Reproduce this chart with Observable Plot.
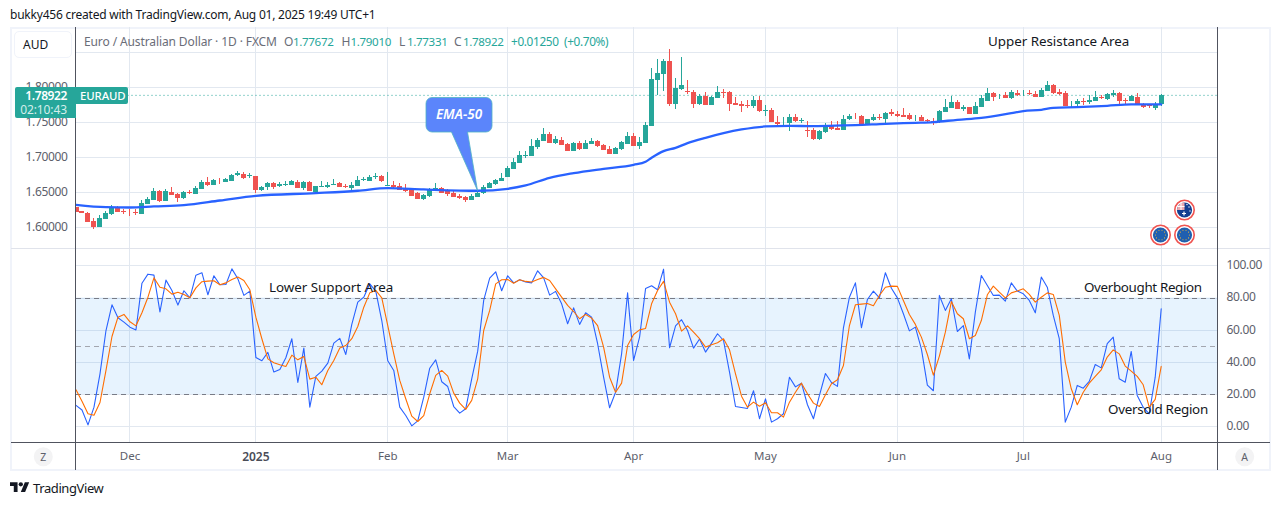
<!DOCTYPE html>
<html><head><meta charset="utf-8">
<script src="https://cdn.jsdelivr.net/npm/d3@7"></script>
<script src="https://cdn.jsdelivr.net/npm/@observablehq/plot@0.6"></script>
<style>
html,body{margin:0;padding:0;background:#fff}
#root{position:relative;width:1281px;height:505px;overflow:hidden;font-family:"Noto Sans",sans-serif;color:#131722}
#root svg{position:absolute;overflow:visible}
#root svg [aria-label="y-axis tick label"]{letter-spacing:-.35px}
.t{position:absolute;white-space:pre;line-height:1}
.box{position:absolute;box-sizing:border-box}
</style></head><body><div id="root"></div>
<script>
const opens=[1.6286,1.6238,1.621,1.609,1.601,1.6124,1.619,1.628,1.6238,1.6224,
1.622,1.6195,1.6333,1.639,1.6519,1.6376,1.651,1.6476,1.6419,1.651,
1.6476,1.6548,1.6648,1.661,1.6667,1.6652,1.6667,1.6743,1.6767,1.6733,
1.6733,1.6533,1.6571,1.6638,1.6595,1.66,1.661,1.6648,1.6557,1.6652,
1.651,1.6581,1.6581,1.661,1.6629,1.659,1.6557,1.659,1.6671,1.6667,
1.6719,1.6729,1.6595,1.6605,1.659,1.6557,1.6533,1.6495,1.6405,1.6448,
1.6524,1.6557,1.6514,1.649,1.6452,1.6429,1.6395,1.6438,1.6486,1.6567,
1.6619,1.6667,1.6719,1.6833,1.6924,1.7019,1.7024,1.7148,1.7233,1.7338,
1.7205,1.7252,1.719,1.7095,1.7205,1.7124,1.7195,1.7233,1.7176,1.7119,
1.7052,1.7119,1.719,1.73,1.7162,1.721,1.7452,1.8105,1.8195,1.8376,
1.7767,1.7971,1.7948,1.7933,1.7762,1.7881,1.7748,1.7848,1.7933,1.7933,
1.7776,1.7757,1.7743,1.7733,1.7819,1.7667,1.7676,1.7505,1.75,1.749,
1.7571,1.7519,1.7395,1.7386,1.7262,1.7362,1.7462,1.7419,1.739,1.7543,
1.7595,1.759,1.7462,1.7529,1.7571,1.7548,1.7643,1.7624,1.76,1.76,
1.7557,1.7571,1.7533,1.7524,1.7505,1.7648,1.7705,1.779,1.769,1.7714,
1.7619,1.7719,1.7805,1.7919,1.7886,1.789,1.7843,1.7919,1.7914,1.7924,
1.79,1.7862,1.7948,1.8033,1.7938,1.7914,1.7743,1.7757,1.7805,1.7786,
1.7805,1.7867,1.7829,1.7886,1.7924,1.7819,1.7805,1.7857,1.7767,1.7743,1.771,1.77672];
const closes=[1.6224,1.62,1.608,1.601,1.6129,1.62,1.6286,1.622,1.6224,1.6214,
1.621,1.6343,1.64,1.6524,1.6371,1.6514,1.6462,1.6414,1.651,1.6495,
1.6562,1.6648,1.66,1.6676,1.6657,1.6686,1.6748,1.6771,1.6705,1.6743,
1.6533,1.6581,1.6633,1.6571,1.6614,1.6624,1.6662,1.6567,1.6643,1.6519,
1.659,1.6595,1.6605,1.6619,1.6581,1.6571,1.661,1.6676,1.6686,1.6719,
1.6729,1.6662,1.661,1.6571,1.6538,1.6519,1.6448,1.6405,1.6462,1.6533,
1.6562,1.6495,1.6476,1.6438,1.6424,1.639,1.6448,1.649,1.6571,1.6629,
1.6676,1.6705,1.6848,1.6933,1.7029,1.7033,1.7157,1.7252,1.7333,1.7205,
1.7262,1.7181,1.7095,1.7205,1.7119,1.7205,1.7233,1.7167,1.711,1.7048,
1.7133,1.7219,1.73,1.7167,1.7219,1.7457,1.8114,1.8205,1.8376,1.7767,
1.799,1.8033,1.7933,1.7767,1.7881,1.7748,1.7862,1.7933,1.7924,1.7762,
1.7752,1.7738,1.7733,1.7819,1.7662,1.7676,1.751,1.7481,1.751,1.7571,
1.7514,1.7529,1.7381,1.7262,1.7371,1.7462,1.7405,1.7395,1.7548,1.7586,
1.7586,1.7462,1.7543,1.7571,1.7557,1.7633,1.7619,1.759,1.7581,1.7552,
1.7567,1.7514,1.7514,1.751,1.7662,1.7714,1.779,1.769,1.7724,1.7619,
1.7729,1.7843,1.7919,1.7862,1.7895,1.7848,1.7933,1.789,1.7924,1.791,
1.7862,1.7962,1.8033,1.7919,1.7905,1.7733,1.7752,1.781,1.7795,1.7824,
1.7862,1.7852,1.7905,1.7919,1.7805,1.7805,1.7876,1.7762,1.7719,1.7729,1.7762,1.78922];
const highs=[1.6286,1.6238,1.6214,1.6129,1.6176,1.6238,1.632,1.6305,1.6262,1.6257,
1.6257,1.639,1.6429,1.6557,1.6533,1.6548,1.6571,1.6495,1.6519,1.6529,
1.659,1.6671,1.6714,1.6695,1.671,1.6705,1.6762,1.68,1.6786,1.6771,
1.6733,1.6586,1.6652,1.6643,1.6648,1.6657,1.6676,1.6671,1.6657,1.6662,
1.6595,1.6662,1.6652,1.6686,1.6652,1.6619,1.6643,1.6733,1.6714,1.6748,
1.6771,1.6743,1.6786,1.6667,1.6638,1.6614,1.654,1.65,1.648,1.6567,
1.6629,1.6576,1.6543,1.6514,1.6471,1.6452,1.6471,1.6505,1.6605,1.6648,
1.669,1.6771,1.6876,1.6995,1.7086,1.7086,1.7267,1.7271,1.7419,1.7357,
1.73,1.7286,1.721,1.7214,1.7233,1.7248,1.7276,1.7252,1.7195,1.7157,
1.7152,1.7233,1.7362,1.7352,1.7295,1.7505,1.8276,1.84,1.8405,1.8548,
1.8133,1.8433,1.8105,1.7962,1.79,1.7933,1.7871,1.8019,1.7971,1.7943,
1.7862,1.7805,1.7814,1.7876,1.7876,1.7743,1.77,1.759,1.7576,1.7619,
1.7619,1.7562,1.7519,1.7414,1.7386,1.7495,1.7524,1.7519,1.7605,1.7619,
1.7638,1.7605,1.7552,1.7619,1.7619,1.7643,1.769,1.7657,1.7705,1.7638,
1.76,1.7605,1.7552,1.7557,1.7671,1.7829,1.7876,1.7819,1.7748,1.7724,
1.779,1.789,1.799,1.7929,1.791,1.7933,1.7957,1.7957,1.7962,1.7962,
1.7952,1.799,1.809,1.8048,1.7971,1.7948,1.78,1.7829,1.7848,1.7886,
1.7948,1.7886,1.7914,1.7957,1.7933,1.7848,1.7886,1.7914,1.7776,1.7767,1.779,1.7901];
const lows=[1.6224,1.62,1.608,1.598,1.6,1.6119,1.6176,1.6214,1.619,1.6167,
1.6176,1.6195,1.6329,1.639,1.6362,1.6376,1.6457,1.6367,1.641,1.6476,
1.6476,1.6548,1.6586,1.66,1.6619,1.6648,1.6662,1.6733,1.669,1.671,
1.6495,1.6524,1.6533,1.6548,1.6581,1.659,1.6605,1.6562,1.6533,1.6514,
1.6495,1.6571,1.6567,1.66,1.6576,1.6557,1.6533,1.659,1.6657,1.666,
1.669,1.6648,1.659,1.6562,1.6533,1.6505,1.6448,1.64,1.639,1.6438,
1.6519,1.6495,1.6452,1.6438,1.6405,1.6367,1.639,1.6433,1.6481,1.6562,
1.661,1.6662,1.6719,1.6833,1.6924,1.6995,1.7024,1.7114,1.7233,1.72,
1.7186,1.7176,1.7086,1.7095,1.711,1.7119,1.7186,1.7152,1.7105,1.7048,
1.7048,1.711,1.719,1.7167,1.7119,1.7205,1.7448,1.7886,1.7952,1.7733,
1.7695,1.7962,1.7905,1.7705,1.7752,1.7748,1.7748,1.7848,1.7848,1.7662,
1.7748,1.7652,1.7705,1.77,1.7652,1.759,1.751,1.7457,1.7452,1.7381,
1.7505,1.7486,1.7286,1.7252,1.7248,1.7343,1.7386,1.7386,1.739,1.7538,
1.7543,1.7462,1.7457,1.7514,1.7533,1.7486,1.7595,1.7581,1.7576,1.7533,
1.7514,1.7514,1.75,1.7467,1.7495,1.7648,1.7705,1.769,1.7662,1.7619,
1.7619,1.7714,1.78,1.7805,1.7838,1.7843,1.7838,1.7876,1.7876,1.7895,
1.7857,1.7862,1.7948,1.7905,1.789,1.7733,1.7714,1.7724,1.7743,1.7762,
1.78,1.7833,1.7819,1.7862,1.7767,1.7762,1.78,1.7743,1.7705,1.7705,1.7676,1.77331];
const emaBars=[0,5,9,13,18,24,30,40,47,52,58,67,72,75,79,83,88,93,95,96,98,100,102,105,108,111,115,119,123,128,130,135,140,143,147,151,156,158,161,163,167,172,176,181];
const emaValues=[1.6329,1.6295,1.629,1.6305,1.6324,1.639,1.6457,1.6495,1.6529,1.6567,1.6548,1.6529,1.6557,1.6605,1.6714,1.6781,1.6843,1.69,1.6943,1.70,1.7095,1.7143,1.721,1.7286,1.7352,1.7405,1.7448,1.7457,1.7452,1.7462,1.7467,1.7486,1.75,1.751,1.7543,1.7571,1.7638,1.7667,1.7686,1.7714,1.7724,1.7743,1.7762,1.7762];
const stochK=[13.3,10.4,1.2,12.2,32.9,59.8,75.8,67.7,65,61.9,
60.2,89.2,94.8,94.2,71.4,91.1,84.7,75.6,84.5,80.1,
94.2,95.7,82,93.8,88.2,88.4,98.1,91.9,81.6,84.3,
43.1,41,46.2,34,35.6,42.9,54.7,27.5,48.9,12.2,
31.3,34.6,39.5,52,54.9,44.9,63.6,77.4,80.5,88.8,
84.3,66,41,35,12.2,7,0.6,3.7,18.4,36.4,
41.6,28,25,12.6,8.5,11.2,29.8,47,78.5,92.3,
96.3,84.5,93.8,89.4,91.3,89.9,89.4,96.9,92.5,81.8,
84.1,76.4,64,73.9,63.6,70.8,68.1,51.6,30.8,11.8,
21.5,45.3,83.2,41.2,55.7,85.9,87.6,85.1,97.9,49.1,
62.7,66.5,59.8,48.9,54.5,46.4,52,57.8,53.6,34,
12.6,12,11.4,22.4,5,17.4,2.9,5,8.1,30.8,
24.8,27.1,13.7,5,19.5,33.1,27.5,25.1,61.5,80.5,
89.4,61.5,79.1,84.3,80.1,95.7,86.1,80.1,70.2,59.6,
61.9,48.4,25.9,22.4,81.6,72.3,79.5,59.2,62.9,42.2,
71.2,94,87.8,81.6,81.8,78.1,89.4,84.3,82.6,78.5,
70.8,93,86.7,69.2,54.7,2.9,12.2,25.7,24,28.2,
38.7,36.6,51.6,55.7,29.8,27.7,46.8,19.5,12.2,8.1,30.8,73.3];
const stochD=[23,15.9,8.1,7.2,15.1,35,56.1,68.1,69.8,65.2,
62.7,70.8,80.5,92.5,86.7,85.7,82.4,83.6,82.2,80.1,
86.3,90.1,90.5,90.7,88.2,89.4,91.5,93,90.9,85.1,
68.1,54.7,42.2,39.8,38.5,37.5,44.5,41.6,43.7,29.6,
30.8,26.1,35,41.2,48.9,50.5,54.7,62.3,74.3,83.2,
84.7,80.1,62.9,45.3,28.8,17.4,6.6,3.3,7,20.5,
31.9,35,31.5,20.9,14.7,10.8,16.4,29.8,59.8,72.3,
88.8,91.3,91.5,89.2,91.3,90.3,89.9,91.5,92.8,90.9,
85.7,80.5,75.4,71.6,67.1,69.8,67.5,62.9,49.5,30.8,
21.5,27.1,50.5,57.3,60.2,61.1,76.4,84.7,90.3,77.4,
70.2,59.4,62.7,58.8,54.7,49.5,50.9,52.2,54.7,47.8,
32.9,19,12.2,15.3,12.8,14.9,8.7,8.7,6,15.3,
21.5,27.1,20.5,14.7,12.6,19.9,26.7,29.2,38.1,62.9,
75.8,76.2,76.6,75.2,81.6,86.7,87.4,87.2,78.5,69.8,
63.6,55.7,44.9,32.1,43.9,58.8,77.8,70.2,67.1,54.7,
56.7,66,82,87.4,83.6,80.1,83.2,84.3,85.7,82.2,
77.4,80.5,83.2,82.2,69.2,40.2,23.6,13.7,21.5,27.1,
31.3,35.4,43.3,47.8,45.3,37.7,34.6,31.3,26.1,12.2,17,37.5];
const monthBars=[9,52,72,93,115,137,158,181];
const monthLabels=["Dec","Feb","Mar","Apr","May","Jun","Jul","Aug"];
const yearBars=[30];
const yearLabels=["2025"];
const priceTicks=[1.6,1.65,1.7,1.75,1.8];
const priceGrid=[1.6,1.65,1.7,1.75,1.8,1.85];
const stochTicks=[0,20,40,60,80,100];
const lastClose=1.78922;

const UP="#26a69a",DOWN="#ef5350",GRID="#e2e8f0",AXIS="#787b86",BLUE="#2962ff",ORANGE="#ff6d00";
const FONT='"Noto Sans",sans-serif';
const candles=opens.map((o,i)=>({i,o,c:closes[i],h:highs[i],l:lows[i]}));
const ema=emaBars.map((i,k)=>({i,v:emaValues[k]}));
const kLine=stochK.map((v,i)=>({i,v}));
const dLine=stochD.map((v,i)=>({i,v}));
const allBars=[...monthBars,...yearBars];
const xDom={domain:[0,181],range:[75.5,1160.7]};
const root=document.getElementById("root");

function candleMarks(test,color){
  const d=candles.filter(test);
  return [
    Plot.ruleX(d,{x:"i",y1:"l",y2:"h",stroke:color,strokeWidth:1,clip:true,shapeRendering:"crispEdges"}),
    Plot.ruleX(d,{x:"i",y1:"o",y2:"c",stroke:color,strokeWidth:5,clip:true,shapeRendering:"crispEdges"})
  ];
}
const main=Plot.plot({
  width:1281,height:248,marginLeft:75.5,marginRight:63.5,marginTop:27,marginBottom:0,
  style:{background:"transparent",fontFamily:FONT,fontSize:"12px"},
  x:{...xDom,axis:null},
  y:{domain:[1.6,1.8],range:[227.3,87.3]},
  marks:[
    Plot.ruleY(priceGrid,{stroke:GRID,strokeWidth:1,shapeRendering:"crispEdges"}),
    Plot.ruleX(allBars,{stroke:GRID,strokeWidth:1,shapeRendering:"crispEdges"}),
    Plot.axisY({ticks:priceTicks,anchor:"left",tickSize:0,tickPadding:8.5,tickFormat:d3.format(".5f"),label:null,color:"#5d606b",fontSize:12,dy:-0.7}),
    Plot.ruleY([lastClose],{stroke:UP,strokeDasharray:"1 3",strokeWidth:1}),
    ...candleMarks(d=>d.c>=d.o,UP),
    ...candleMarks(d=>d.c<d.o,DOWN),
    Plot.line(ema,{x:"i",y:"v",stroke:BLUE,strokeWidth:2.3,curve:"monotone-x",clip:true})
  ]
});
main.style.left="0";main.style.top="0";
const stoch=Plot.plot({
  width:1281,height:221,marginLeft:75.5,marginRight:63.5,marginTop:0,marginBottom:27.7,
  style:{background:"transparent",fontFamily:FONT,fontSize:"12px"},
  x:{...xDom,axis:null},
  y:{domain:[0,100],range:[177.3,16.3]},
  marks:[
    Plot.ruleY(stochTicks,{stroke:GRID,shapeRendering:"crispEdges"}),
    Plot.ruleX(allBars,{stroke:GRID,shapeRendering:"crispEdges"}),
    Plot.rect([{a:20,b:80}],{y1:"a",y2:"b",fill:"#2196f3",fillOpacity:0.11}),
    Plot.ruleY([80,20],{stroke:"#787b86",strokeDasharray:"5 4",strokeWidth:1,shapeRendering:"crispEdges"}),
    Plot.ruleY([50],{stroke:"#a3a6af",strokeDasharray:"5 4",strokeWidth:1,shapeRendering:"crispEdges"}),
    Plot.axisY({ticks:stochTicks,anchor:"right",tickSize:0,tickPadding:8.5,tickFormat:d3.format(".2f"),label:null,color:"#5d606b",fontSize:12,dy:-0.5}),
    Plot.axisX({ticks:monthBars,anchor:"bottom",tickSize:0,tickPadding:9.5,label:null,tickFormat:i=>monthLabels[monthBars.indexOf(i)],color:"#5d606b",fontSize:11.5}),
    Plot.axisX({ticks:yearBars,anchor:"bottom",tickSize:0,tickPadding:9.5,label:null,tickFormat:i=>yearLabels[yearBars.indexOf(i)],color:"#4a4d57",fontSize:12,fontWeight:600}),
    Plot.line(kLine,{x:"i",y:"v",stroke:BLUE,strokeWidth:1.1,clip:true}),
    Plot.line(dLine,{x:"i",y:"v",stroke:ORANGE,strokeWidth:1.1,clip:true})
  ]
});
stoch.style.left="0";stoch.style.top="249px";

function box(l,t,w,h,css){const e=document.createElement("div");e.className="box";e.style.cssText=`left:${l}px;top:${t}px;width:${w}px;height:${h}px;${css}`;root.appendChild(e);return e}
function txt(s,l,cy,size,color,extra=""){const e=document.createElement("div");e.className="t";e.textContent=s;e.style.cssText=`left:${l}px;top:${cy-size/2}px;font-size:${size}px;color:${color};${extra}`;root.appendChild(e);return e}
function txtR(s,r,cy,size,color,extra=""){return txt(s,0,cy,size,color,`left:auto;right:${1281-r}px;${extra}`)}

// chart frame
box(10,27,1261,444,"border:2px solid #f0f3fa;border-width:2px 2px 2px 2px");
box(11,248,1259,1,"background:#e0e3eb");
root.appendChild(main);root.appendChild(stoch);
box(11,442,1259,1,"background:#50535e");
box(75,27,1,443,"background:#50535e");
box(1217,27,1,443,"background:#50535e");

// header
txt("bukky456 created with TradingView.com, Aug 01, 2025 19:49 UTC+1",10,15,12,"#131722","letter-spacing:-.22px");
box(14,31,58,27,"background:#fff;border:1px solid #f0f3fa;border-radius:5px");
txt("AUD",23,44.5,12,"#131722");
txt("Euro / Australian Dollar · 1D · FXCM",84,42,12,"#6a6d78","letter-spacing:-.11px");
const hdr="letter-spacing:-.35px";
[["O",284,"1.77672",293],["H",341.5,"1.79010",350.5],["L",399,"1.77331",407],["C",454,"1.78922",463]].forEach(([a,x,v,vx])=>{txt(a,x,42,12,"#6a6d78");txt(v,vx,42,11.6,UP,hdr)});
txt("+0.01250",511,42,11.8,UP,hdr);txt("(+0.70%)",564,42,11.8,UP,hdr);

// price tags
box(15,87.3,60.5,30.4,`background:${UP};border-radius:2px 0 0 2px`);
box(75.5,87.3,52.7,17,`background:${UP};border-radius:0 2px 2px 0`);
txtR("1.78922",67,95.5,12,"#fff","font-weight:600;letter-spacing:-.4px");
txtR("02:10:43",67,110,12,"#d4eeeb","letter-spacing:-.1px");
txt("EURAUD",80,95.5,11.4,"#fff","font-weight:500;letter-spacing:-.1px");

// annotations
[["Upper Resistance Area",988,42,"-.03px"],["Lower Support Area",269,288,"-.03px"],["Overbought Region",1084,288,"-.35px"],["Oversold Region",1108,410,"-.27px"]]
 .forEach(([s,x,y,ls])=>txt(s,x,y,13.4,"#131722",`letter-spacing:${ls}`));

// callout and flags
const ns="http://www.w3.org/2000/svg";
const ov=document.createElementNS(ns,"svg");
ov.setAttribute("width",1281);ov.setAttribute("height",505);ov.style.left="0";ov.style.top="0";
const stars=(cx,cy)=>d3.range(10).map(k=>`<circle cx="${cx+5*Math.cos(k*Math.PI/5)}" cy="${cy+5*Math.sin(k*Math.PI/5)}" r=".6" fill="#e8b23a"/>`).join("");
const flag=(cx,cy,inner)=>`<circle cx="${cx}" cy="${cy}" r="9.7" fill="#fff" stroke="#ef5350" stroke-width="1.6"/><circle cx="${cx}" cy="${cy}" r="7.6" fill="#1f5fb0"/>${inner}`;
ov.innerHTML=`<path d="M432 97.5H486a6 6 0 0 1 6 6V126a6 6 0 0 1-6 6H467.5L477.5 190.5L451.5 132H432a6 6 0 0 1-6-6V103.5a6 6 0 0 1 6-6Z" fill="#5b85fb" stroke="#4fb3c4" stroke-width=".8"/>
<text x="459" y="119" text-anchor="middle" font-family='${FONT}' font-size="13.5" font-style="italic" font-weight="600" fill="#fff">EMA-50</text>
${flag(1160.5,235,stars(1160.5,235))}${flag(1184.5,235,stars(1184.5,235))}
<circle cx="1184.5" cy="210" r="9.7" fill="#fff" stroke="#ef5350" stroke-width="1.6"/><circle cx="1184.5" cy="210" r="7.6" fill="#123f91"/>
<path d="M1177 210A7.6 7.6 0 0 1 1184.5 202.4V210Z" fill="#e9aab0"/><path d="M1177.5 206.5H1184.5M1181 202.8V210" stroke="#fff" stroke-width="1"/>
<path d="M1182 213.5H1186M1184 211.5V215.5" stroke="#fff" stroke-width="1.2"/><circle cx="1189" cy="207" r=".7" fill="#fff"/><circle cx="1190" cy="211" r=".7" fill="#fff"/><circle cx="1187" cy="204.5" r=".7" fill="#fff"/>
<circle cx="43.3" cy="456.7" r="9.5" fill="#f3f3f4"/><circle cx="1244.7" cy="456.7" r="9.5" fill="#f3f3f4"/>
<text x="43.3" y="460.5" text-anchor="middle" font-family='${FONT}' font-size="10.5" fill="#5d606b">Z</text>
<text x="1244.7" y="460.5" text-anchor="middle" font-family='${FONT}' font-size="10.5" fill="#5d606b">A</text>
<g transform="translate(10,480) scale(.54)" fill="#131722"><path d="M14 22H7V11H0V4h14v18zM28 22h-8l7.5-18h8L28 22z"/><circle cx="20" cy="8" r="4"/></g>`;
root.appendChild(ov);
txt("TradingView",33,488,13,"#131722","letter-spacing:-.4px");
</script></body></html>
